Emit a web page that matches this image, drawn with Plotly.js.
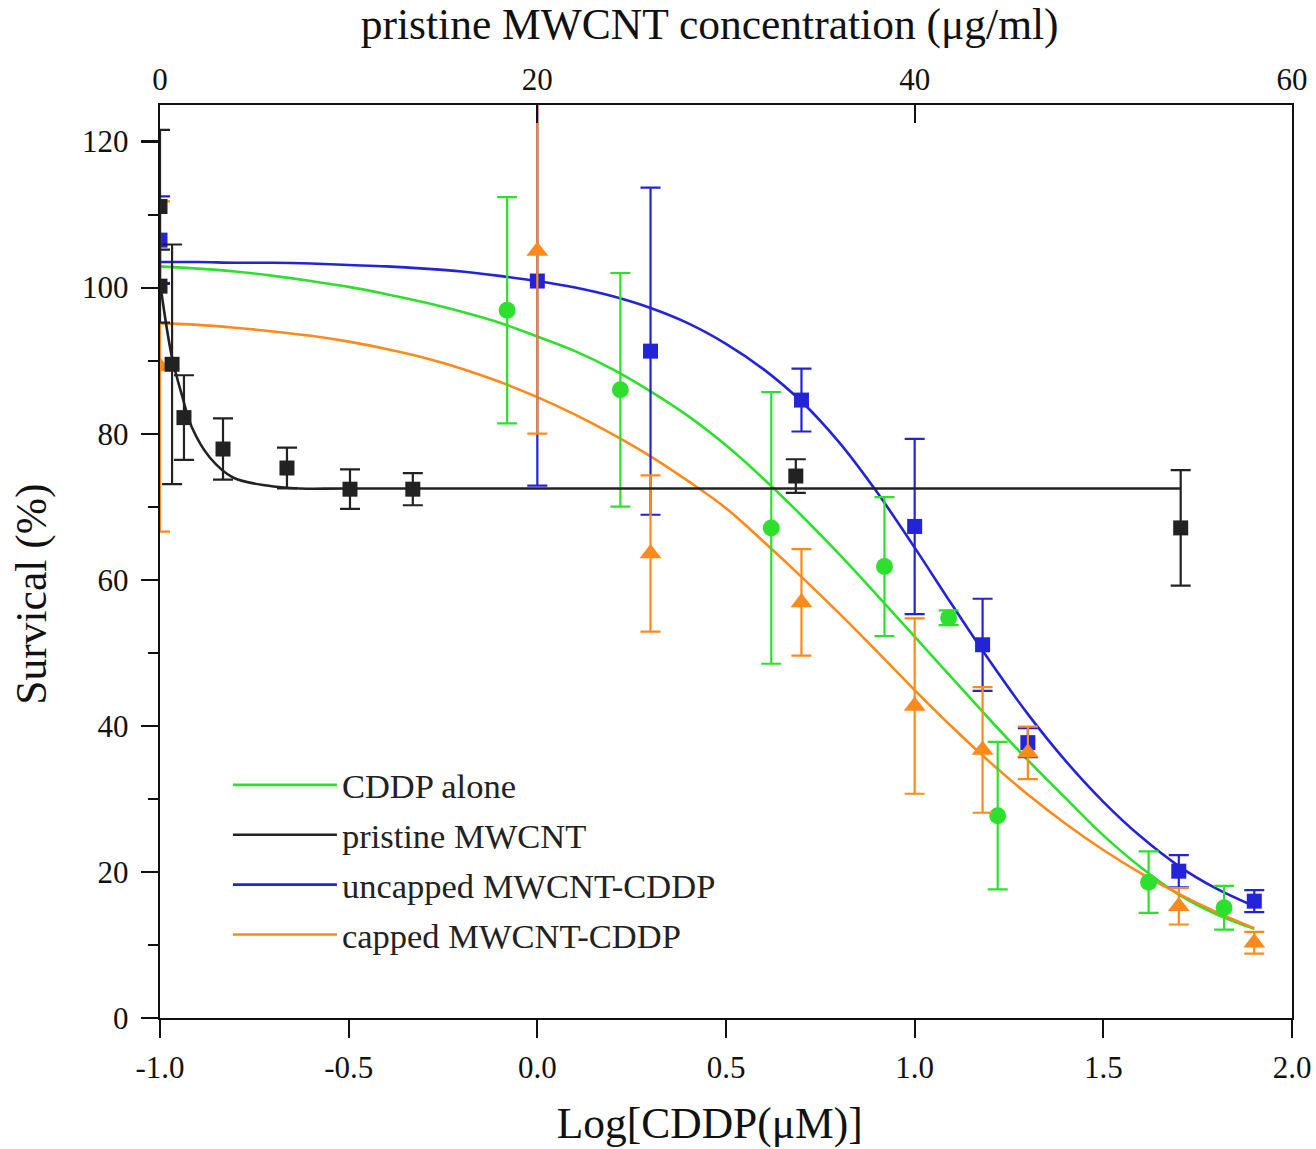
<!DOCTYPE html>
<html>
<head>
<meta charset="utf-8">
<script src="https://cdn.plot.ly/plotly-3.0.1.min.js"></script>
<style>html,body{margin:0;padding:0;background:#fff;}#chart{width:1316px;height:1149px;}</style>
</head>
<body>
<div id="chart"></div>
<script>
// ---- data ----
// CDDP alone (green circles), x = Log[CDDP(uM)]
const cddpX   = [-0.08, 0.22, 0.62, 0.92, 1.09, 1.22, 1.62, 1.82];
const cddpY   = [96.9, 86.0, 67.1, 61.8, 54.8, 27.7, 18.6, 15.1];
const cddpErr = [15.5, 16.0, 18.6, 9.5, 1.0, 10.1, 4.2, 3.0];

const fitX = [-1.0, -0.9, -0.8, -0.7, -0.6, -0.5, -0.4, -0.3, -0.2, -0.1, 0.0, 0.1, 0.2, 0.3, 0.4,
              0.5, 0.6, 0.7, 0.8, 0.9, 1.0, 1.1, 1.2, 1.3, 1.4, 1.5, 1.6, 1.7, 1.8, 1.9];
const cddpFitY = [102.9, 102.6, 102.2, 101.6, 100.9, 100.1, 99.1, 98.0, 96.7, 95.2, 93.3, 91.3, 88.8, 85.8, 82.4,
                  78.4, 73.8, 68.8, 63.5, 57.9, 52.2, 46.5, 40.8, 35.3, 30.1, 25.0, 20.6, 16.9, 14.2, 12.2];

// uncapped MWCNT-CDDP (blue squares)
const uncX   = [-1.0, 0.0, 0.30, 0.70, 1.0, 1.18, 1.30, 1.70, 1.90];
const uncY   = [106.5, 100.9, 91.3, 84.6, 67.3, 51.1, 37.7, 20.1, 16.0];
const uncErr = [6.0, 28.0, 22.4, 4.3, 12.0, 6.3, 2.0, 2.2, 1.5];
const uncFitY = [103.5, 103.5, 103.4, 103.4, 103.3, 103.1, 102.9, 102.6, 102.2, 101.6, 100.9, 100.0, 98.8, 97.2, 95.1,
                 92.3, 88.8, 84.4, 78.8, 72.0, 64.4, 56.5, 48.8, 41.6, 35.2, 29.6, 24.8, 20.8, 17.7, 15.3];

// capped MWCNT-CDDP (orange triangles)
const capX   = [-1.0, 0.0, 0.30, 0.70, 1.0, 1.18, 1.30, 1.70, 1.90];
const capY   = [89.2, 105.0, 63.6, 56.9, 42.7, 36.7, 36.3, 15.3, 10.3];
const capErr = [22.6, 25.0, 10.7, 7.3, 12.0, 8.6, 3.6, 2.5, 1.5];
const capFitY = [95.1, 94.9, 94.5, 94.0, 93.4, 92.6, 91.6, 90.4, 88.9, 87.1, 85.0, 82.6, 79.9, 76.9, 73.5,
                 69.8, 65.2, 60.4, 55.4, 50.2, 44.9, 39.8, 35.0, 30.6, 26.6, 23.0, 19.8, 17.0, 14.5, 12.3];

// pristine MWCNT (black squares), x = concentration (ug/ml) on top axis
const prisX   = [0, 0, 0.64, 1.27, 3.34, 6.73, 10.07, 13.4, 33.7, 54.1];
const prisY   = [111.1, 100.2, 89.5, 82.2, 77.9, 75.3, 72.4, 72.4, 74.2, 67.1];
const prisErr = [10.5, 5.0, 16.4, 5.8, 4.2, 2.8, 2.7, 2.2, 2.3, 7.9];
const prisFitX = [0, 0.15, 0.64, 1.17, 1.7, 2.65, 3.87, 5.67, 7.4, 10, 54.1];
const prisFitY = [101, 98, 90.4, 85.2, 80.8, 76.7, 74.0, 72.9, 72.5, 72.5, 72.5];

const legendNames = ['CDDP alone', 'pristine MWCNT', 'uncapped MWCNT-CDDP', 'capped MWCNT-CDDP'];
const bottomTicks = [-1.0, -0.5, 0.0, 0.5, 1.0, 1.5, 2.0];
const bottomTickText = ['-1.0', '-0.5', '0.0', '0.5', '1.0', '1.5', '2.0'];
const topTicks = [0, 20, 40, 60];
const yTicks = [0, 20, 40, 60, 80, 100, 120];

// ---- styles ----
const GREEN = '#2ee02e', BLACK = '#222222', BLUE = '#2323d8', ORANGE = '#ff8a1c';
const FONT = 'Liberation Serif, Times New Roman, serif';
function pad(n) { return '\u00a0'.repeat(n) + '\u200b'; }

function fit(x, y, color, name, xa) {
  return {x: x, y: y, type: 'scatter', mode: 'lines', name: name,
    xaxis: xa || 'x', yaxis: 'y', legendgroup: name,
    line: {color: color, width: 2.6, shape: 'spline', smoothing: 1}};
}
function pts(x, y, err, color, symbol, size, xa) {
  return {x: x, y: y, type: 'scatter', mode: 'markers', showlegend: false,
    xaxis: xa || 'x', yaxis: 'y', cliponaxis: true,
    marker: {color: color, symbol: symbol, size: size, line: {width: 0}},
    error_y: {type: 'data', array: err, visible: true, color: color, thickness: 2.2, width: 10}};
}

const data = [
  fit(fitX, cddpFitY, GREEN, legendNames[0]),
  fit(prisFitX, prisFitY, BLACK, legendNames[1], 'x2'),
  fit(fitX, uncFitY, BLUE, legendNames[2]),
  fit(fitX, capFitY, ORANGE, legendNames[3]),
  pts(cddpX, cddpY, cddpErr, GREEN, 'circle', 17),
  pts(uncX, uncY, uncErr, BLUE, 'square', 15),
  pts(capX, capY, capErr, ORANGE, 'triangle-up', 19),
  pts(prisX, prisY, prisErr, BLACK, 'square', 15, 'x2')
];

const tickFont = {family: FONT, size: 31, color: '#111'};
const titleFont = {family: FONT, size: 43.5, color: '#111'};

const layout = {
  width: 1316, height: 1149,
  margin: {l: 160, r: 24, t: 105, b: 131},
  paper_bgcolor: '#ffffff', plot_bgcolor: '#ffffff',
  font: {family: FONT, color: '#111', size: 30},
  showlegend: true,
  legend: {x: 0.06, y: 0.287, xanchor: 'left', yanchor: 'top', bgcolor: 'rgba(0,0,0,0)',
    font: {family: FONT, size: 34.5, color: '#222'}, itemwidth: 104, traceorder: 'grouped',
    tracegroupgap: 2},
  xaxis: {
    range: [-1, 2], tickvals: bottomTicks, ticktext: bottomTickText,
    ticks: 'outside', ticklen: 18, tickwidth: 2.2, tickcolor: '#111',
    showline: true, linewidth: 2.4, linecolor: '#111', showgrid: false, zeroline: false,
    tickfont: tickFont, ticklabelstandoff: 2,
    title: {text: 'Log[CDDP(μM)]' + pad(3), font: titleFont, standoff: 24},
    automargin: false
  },
  xaxis2: {
    overlaying: 'x', side: 'top', anchor: 'y', range: [0, 60], tickvals: topTicks,
    ticks: 'inside', ticklen: 18, tickwidth: 2.2, tickcolor: '#111',
    showline: true, linewidth: 2.4, linecolor: '#111', showgrid: false, zeroline: false,
    tickfont: tickFont,
    title: {text: 'pristine MWCNT concentration (μg/ml)' + pad(3), font: titleFont, standoff: 12},
    automargin: false
  },
  yaxis: {
    range: [0, 125], tickvals: yTicks,
    ticks: 'outside', ticklen: 17, tickwidth: 2.2, tickcolor: '#111',
    minor: {dtick: 10, tick0: 0, ticks: 'outside', ticklen: 10, tickwidth: 2, tickcolor: '#111'},
    showline: true, linewidth: 2.4, linecolor: '#111', mirror: true, showgrid: false, zeroline: false,
    tickfont: tickFont, ticklabelstandoff: 6,
    title: {text: 'Survical (%)' + pad(6), font: titleFont, standoff: 22},
    automargin: false
  }
};

Plotly.newPlot('chart', data, layout, {displayModeBar: false, staticPlot: true});
</script>
</body>
</html>
